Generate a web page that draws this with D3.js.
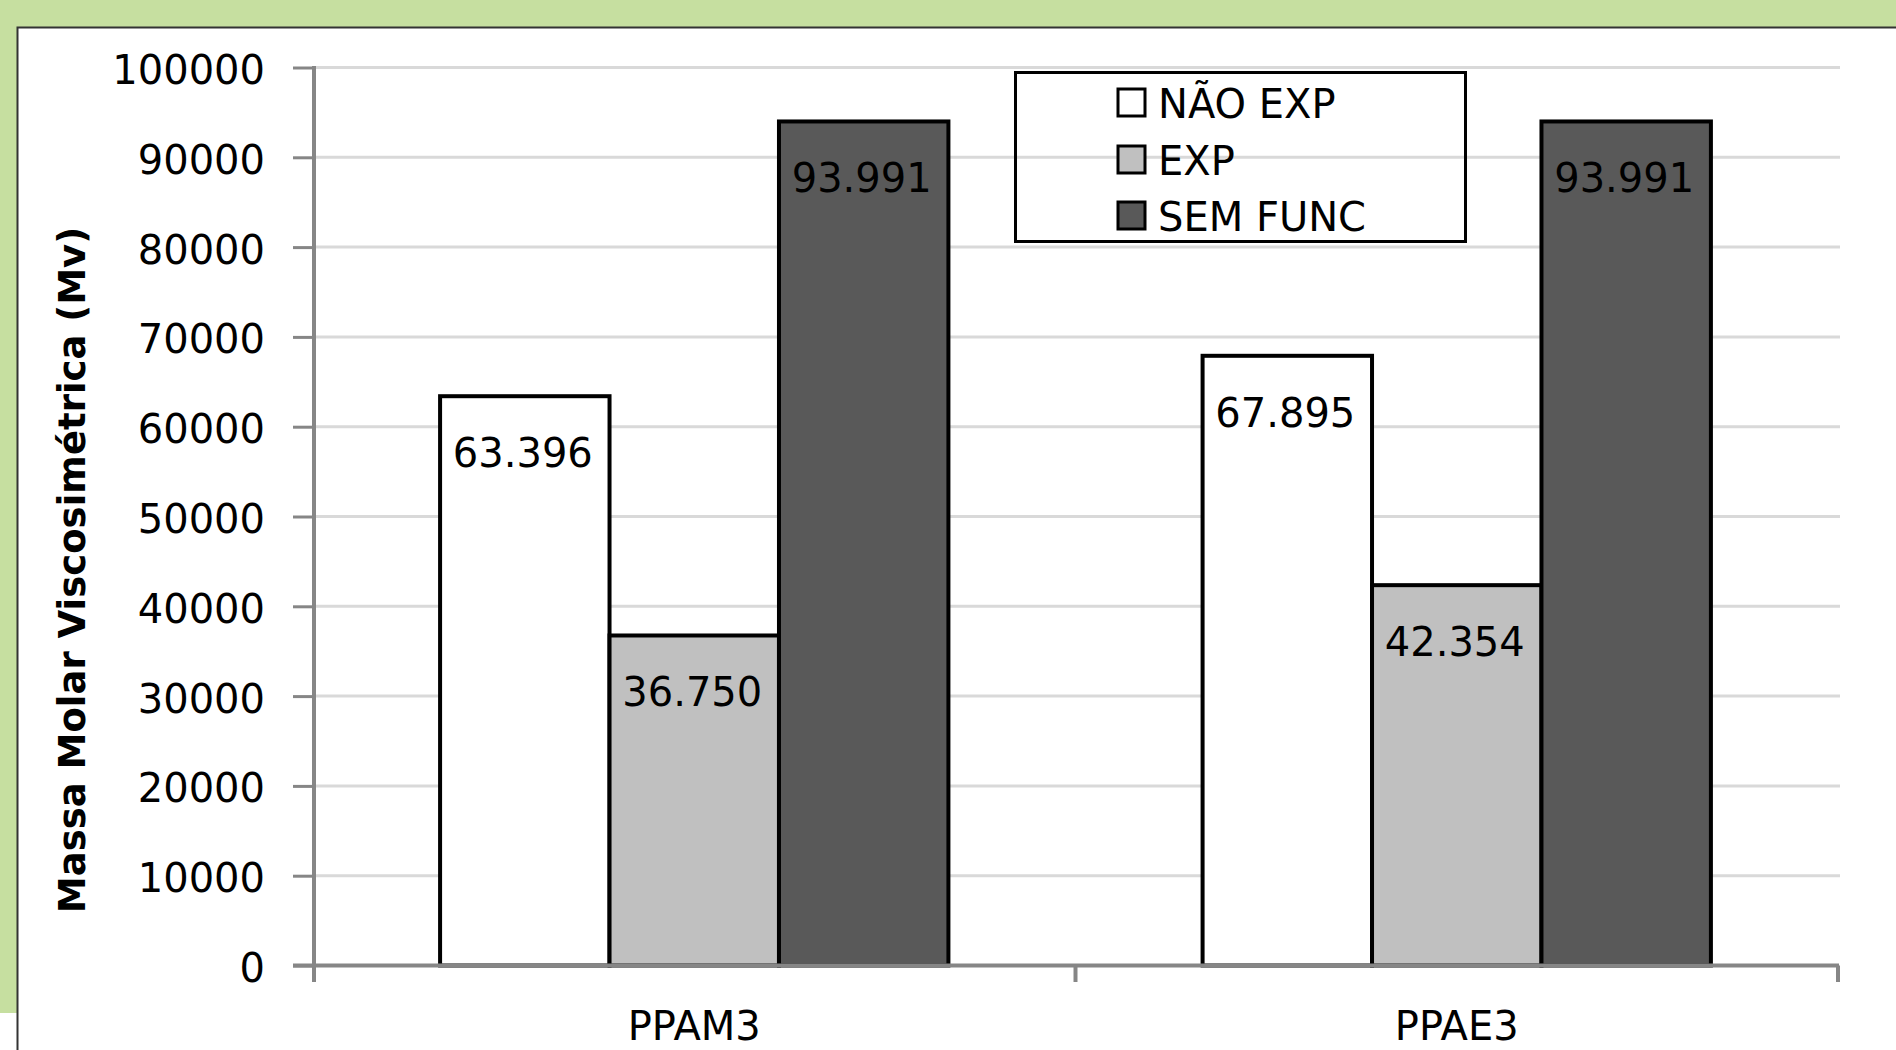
<!DOCTYPE html>
<html>
<head>
<meta charset="utf-8">
<script src="https://cdn.jsdelivr.net/npm/d3@7"></script>
<style>
  html, body { margin: 0; padding: 0; background: #c6dfa0; }
  svg { display: block; }
  text { font-family: "DejaVu Sans", Verdana, sans-serif; fill: #000; }
</style>
</head>
<body>
<svg id="chart" width="1896" height="1050"></svg>
<script>
// Viscometric molar mass per sample and condition
const categories = ["PPAM3", "PPAE3"];
const series = ["NÃO EXP", "EXP", "SEM FUNC"];
const naoExp = [63396, 67895];
const exp = [36750, 42354];
const semFunc = [93991, 93991];
const valueLabels = [["63.396", "36.750", "93.991"], ["67.895", "42.354", "93.991"]];
const yTicks = [0, 10000, 20000, 30000, 40000, 50000, 60000, 70000, 80000, 90000, 100000];
const yTitle = "Massa Molar Viscosimétrica (Mv)";

const seriesColors = ["#ffffff", "#c0c0c0", "#595959"];
const seriesValues = [naoExp, exp, semFunc];

const W = 1896, H = 1050;
const svg = d3.select("#chart");

// page background and chart panel
svg.append("rect").attr("width", W).attr("height", H).attr("fill", "#c6dfa0");
svg.append("rect").attr("x", 18).attr("y", 28).attr("width", W - 18).attr("height", H - 28).attr("fill", "#fff");
svg.append("rect").attr("x", 0).attr("y", 1013).attr("width", 18).attr("height", H - 1013).attr("fill", "#fff");
svg.append("path").attr("d", `M17.5,${H} V27.5 H${W}`).attr("fill", "none").attr("stroke", "#333").attr("stroke-width", 2);

const plotLeft = 313, plotRight = 1838;
const y = d3.scaleLinear().domain([0, 100000]).range([965.5, 67.5]);
const x0 = d3.scaleBand().domain(categories).range([plotLeft, plotRight]).padding(0);
const x1 = d3.scaleBand().domain(series).range([0, x0.bandwidth()]).paddingInner(0).paddingOuter(0.75);

// horizontal gridlines
svg.append("g").selectAll("line").data(yTicks.filter(d => d > 0)).join("line")
  .attr("x1", plotLeft).attr("x2", plotRight + 2)
  .attr("y1", d => y(d)).attr("y2", d => y(d))
  .attr("stroke", "#d9d9d9").attr("stroke-width", 3);

// y axis
const yAxis = d3.axisLeft(y).tickValues(yTicks).tickFormat(d3.format("d")).tickSize(21).tickPadding(28);
const gy = svg.append("g").attr("transform", `translate(${plotLeft + 1},0)`).call(yAxis);
gy.select(".domain").remove();
gy.selectAll(".tick line").attr("stroke", "#868686").attr("stroke-width", 3);
gy.selectAll(".tick text").attr("font-size", 40).attr("font-family", "DejaVu Sans")
  .attr("fill", "#000").attr("dy", "0.4em");
svg.append("line").attr("x1", plotLeft + 1).attr("x2", plotLeft + 1)
  .attr("y1", y(100000) - 1.5).attr("y2", 982)
  .attr("stroke", "#868686").attr("stroke-width", 4);

// bars
const groups = svg.append("g").selectAll("g").data(categories).join("g")
  .attr("transform", d => `translate(${x0(d)},0)`);
groups.selectAll("rect").data((c, i) => series.map((s, j) => ({ s, j, v: seriesValues[j][i] })))
  .join("rect")
  .attr("x", d => x1(d.s)).attr("width", x1.bandwidth())
  .attr("y", d => y(d.v)).attr("height", d => y(0) - y(d.v))
  .attr("fill", d => seriesColors[d.j])
  .attr("stroke", "#000").attr("stroke-width", 4);

// value labels inside the top of each bar
groups.selectAll("text").data((c, i) => series.map((s, j) => ({ s, v: seriesValues[j][i], t: valueLabels[i][j] })))
  .join("text")
  .attr("x", d => x1(d.s) + x1.bandwidth() / 2 - 2)
  .attr("y", d => y(d.v) + 71)
  .attr("text-anchor", "middle").attr("font-size", 40)
  .text(d => d.t);

// x axis
svg.append("line").attr("x1", 293).attr("x2", plotRight + 1)
  .attr("y1", y(0)).attr("y2", y(0))
  .attr("stroke", "#868686").attr("stroke-width", 4);
const xTickPos = [plotLeft + 1, x0(categories[1]), plotRight];
svg.append("g").selectAll("line").data(xTickPos).join("line")
  .attr("x1", d => d).attr("x2", d => d)
  .attr("y1", y(0)).attr("y2", 982)
  .attr("stroke", "#868686").attr("stroke-width", 4);
svg.append("g").selectAll("text").data(categories).join("text")
  .attr("x", d => x0(d) + x0.bandwidth() / 2)
  .attr("y", 1040)
  .attr("text-anchor", "middle").attr("font-size", 40)
  .text(d => d);

// y axis title
svg.append("text")
  .attr("transform", `translate(85,${570}) rotate(-90)`)
  .attr("text-anchor", "middle").attr("font-size", 37).attr("font-weight", "bold")
  .text(yTitle);

// legend
const legend = svg.append("g");
legend.append("rect").attr("x", 1015.5).attr("y", 72.5).attr("width", 450).attr("height", 169)
  .attr("fill", "none").attr("stroke", "#000").attr("stroke-width", 3);
const rowY = [118, 175, 231];
const items = legend.selectAll("g").data(series).join("g")
  .attr("transform", (d, i) => `translate(0,${rowY[i]})`);
items.append("rect").attr("x", 1118).attr("y", -29).attr("width", 27).attr("height", 27)
  .attr("fill", (d, i) => seriesColors[i]).attr("stroke", "#000").attr("stroke-width", 3);
items.append("text").attr("x", 1158).attr("y", 0).attr("font-size", 40).text(d => d);
</script>
</body>
</html>
